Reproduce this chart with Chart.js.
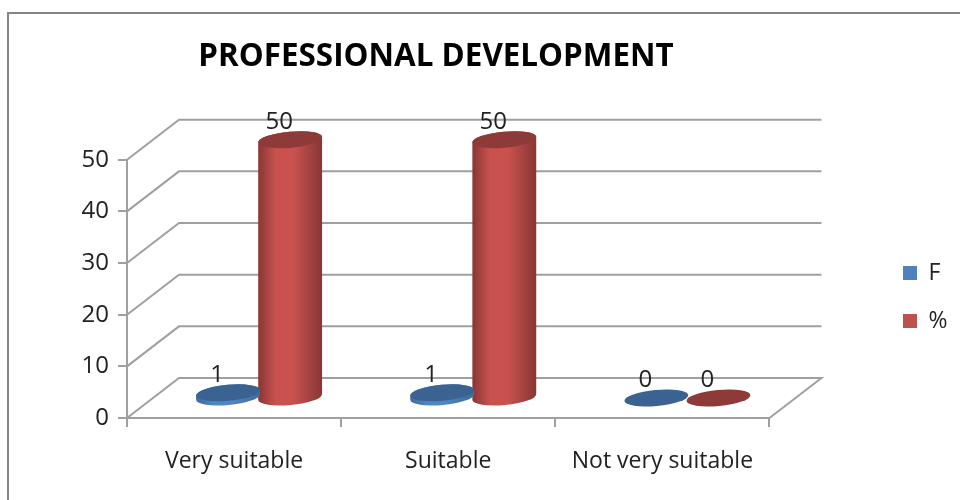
<!DOCTYPE html>
<html>
<head>
<meta charset="utf-8">
<style>
  html, body { margin: 0; padding: 0; background: #fff; }
  #wrap { width: 960px; height: 500px; }
</style>
<script src="https://cdn.jsdelivr.net/npm/chart.js@4/dist/chart.umd.js"></script>
</head>
<body>
<div id="wrap"><canvas id="chart" width="960" height="500"></canvas></div>
<script>
var categories = ["Very suitable", "Suitable", "Not very suitable"];
var seriesF = [1, 1, 0];
var seriesPct = [50, 50, 0];
var yTicks = [0, 10, 20, 30, 40, 50];

var depthX = 52, depthY = 40;
var lineColor = "#a0a0a0";
var textColor = "#222";
var fontFamily = "'Open Sans', sans-serif";

// red and blue ramps for the cylinder side, dark at the edges
var looks = [
  { top: "#3a6391", edge: "#3f6a9e", mid: "#4f86c6" },
  { top: "#8e3a38", edge: "#883634", mid: "#c9524f" }
];

function drawCylinder(ctx, cx, yTop, yBase, rx, look) {
  var ry = 8, tilt = 0.09;
  if (yBase - yTop > 0.5) {
    var g = ctx.createLinearGradient(cx - rx, 0, cx + rx, 0);
    g.addColorStop(0, look.edge);
    g.addColorStop(0.28, look.mid);
    g.addColorStop(0.55, look.mid);
    g.addColorStop(1, look.edge);
    ctx.beginPath();
    ctx.ellipse(cx, yTop, rx, ry, -tilt, Math.PI, 0, false);
    ctx.ellipse(cx, yBase, rx, ry, -tilt, 0, Math.PI, false);
    ctx.closePath();
    ctx.fillStyle = g;
    ctx.fill();
  }
  ctx.beginPath();
  ctx.ellipse(cx, yTop, rx, ry, -tilt, 0, Math.PI * 2);
  ctx.fillStyle = look.top;
  ctx.fill();
}

var frame3d = {
  id: "frame3d",
  afterLayout: function (chart) {
    // legend sits out at the far right, away from the plot
    var legend = chart.legend;
    var h = legend.bottom - legend.top;
    legend.left = 878;
    legend.right = legend.left + legend.width;
    legend.top = 297 - h / 2;
    legend.bottom = legend.top + h;
  },
  beforeDraw: function (chart) {
    var ctx = chart.ctx;
    ctx.save();
    ctx.strokeStyle = "#868686";
    ctx.lineWidth = 2;
    ctx.beginPath();
    ctx.moveTo(8, 500);
    ctx.lineTo(8, 13);
    ctx.lineTo(960, 13);
    ctx.stroke();
    ctx.restore();
  },
  beforeDatasetsDraw: function (chart) {
    var ctx = chart.ctx, a = chart.chartArea, y = chart.scales.y;
    ctx.save();
    ctx.strokeStyle = lineColor;
    ctx.lineWidth = 2;
    yTicks.forEach(function (v) {
      var py = y.getPixelForValue(v);
      ctx.beginPath();
      ctx.moveTo(a.left, py);
      ctx.lineTo(a.left + depthX, py - depthY);
      ctx.lineTo(a.right + depthX, py - depthY);
      if (v === 0) {
        ctx.lineTo(a.right, py);
      }
      ctx.stroke();
    });
    ctx.restore();
  },
  beforeDatasetDraw: function (chart, args) {
    var ctx = chart.ctx, look = looks[args.index];
    ctx.save();
    args.meta.data.forEach(function (bar) {
      drawCylinder(ctx, bar.x + depthX / 2 - 1, bar.y - depthY / 2, bar.base - depthY / 2, bar.width / 2 + 1, look);
    });
    ctx.restore();
    return false;
  },
  afterDatasetsDraw: function (chart) {
    var ctx = chart.ctx;
    ctx.save();
    ctx.fillStyle = textColor;
    ctx.font = "24px " + fontFamily;
    ctx.textAlign = "center";
    ctx.textBaseline = "middle";
    chart.data.datasets.forEach(function (ds, i) {
      chart.getDatasetMeta(i).data.forEach(function (bar, j) {
        ctx.fillText(ds.data[j], bar.x + depthX / 2 - 12, bar.y - depthY / 2 - 18);
      });
    });
    ctx.restore();
  }
};

new Chart(document.getElementById("chart"), {
  type: "bar",
  data: {
    labels: categories,
    datasets: [
      { label: "F", data: seriesF, backgroundColor: "#4f81bd" },
      { label: "%", data: seriesPct, backgroundColor: "#c0504d" }
    ]
  },
  plugins: [frame3d],
  options: {
    responsive: false,
    animation: false,
    categoryPercentage: 0.58,
    barPercentage: 1,
    layout: { padding: { left: 23, right: 111, top: 0, bottom: 0 } },
    plugins: {
      title: {
        display: true,
        text: "PROFESSIONAL DEVELOPMENT",
        color: "#000",
        font: { family: fontFamily, size: 31.4, weight: "bold", lineHeight: 1.2 },
        padding: { top: 38, bottom: 84 }
      },
      legend: {
        position: "right",
        fullSize: false,
        labels: {
          boxWidth: 14,
          boxHeight: 14,
          padding: 25,
          color: textColor,
          font: { family: fontFamily, size: 23 }
        }
      },
      tooltip: { enabled: false }
    },
    scales: {
      x: {
        afterFit: function (s) { s.height = 82; },
        grid: { offset: true, drawOnChartArea: false, color: lineColor, tickLength: 9, lineWidth: 2 },
        border: { color: lineColor, width: 2 },
        ticks: { color: textColor, padding: 21, maxRotation: 0, font: { family: fontFamily, size: 23 } }
      },
      y: {
        min: 0,
        max: 50,
        afterFit: function (s) { s.width = 104; },
        afterBuildTicks: function (s) { s.ticks = yTicks.map(function (v) { return { value: v }; }); },
        grid: { drawOnChartArea: false, color: lineColor, tickLength: 9, lineWidth: 2 },
        border: { color: lineColor, width: 2 },
        ticks: { color: textColor, padding: 9, font: { family: fontFamily, size: 24 } }
      }
    }
  }
});
</script>
</body>
</html>
